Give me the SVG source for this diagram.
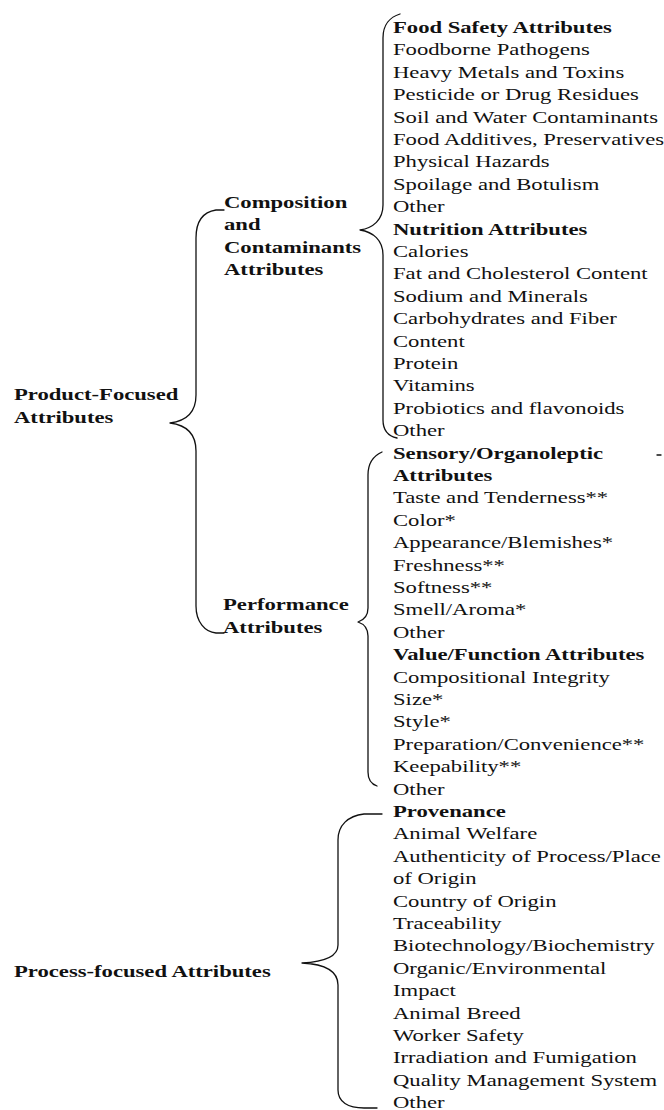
<svg xmlns="http://www.w3.org/2000/svg" width="664" height="1110" viewBox="0 0 664 1110">
<style>
text{font-family:"Liberation Serif","Times New Roman",serif;font-size:16.3px;fill:#111}
.b{font-weight:bold}
.br{fill:none;stroke:#111;stroke-width:1.3;stroke-linecap:round;stroke-linejoin:round}
</style>
<rect width="664" height="1110" fill="#fff"/>
<g id="connectors">
<path class="br" d="M224,210 L216,210 C203,212 196,222 196,238 L196,395 C196,412 186,421 170,423 C186,425 196,434 196,451 L196,606 C196,622 205,632 216,633 L224,633"/>
<path class="br" d="M400,14 C390,17 383,25 383,38 L383,205 C383,220 373,228 360,230 C373,232 383,240 383,255 L383,420 C383,430 388,436 397,438"/>
<path class="br" d="M382,452 C373,456 368,463 368,475 L368,608 C368,616 364,620 358,622 C364,624 368,628 368,636 L368,772 C368,780 371,784 377,786"/>
<path class="br" d="M382,814 L364,814 C348,816 338,825 338,840 L338,945 C338,957 322,962 302,963 C322,964 338,970 338,985 L338,1090 C338,1102 348,1108 364,1108 L377,1108"/>
<path class="br" d="M657,455 L661,455"/>
</g>
<g id="product" transform="translate(14 0) scale(1.39 1)">
<text class="b" x="0" y="400">Product-Focused</text>
<text class="b" x="0" y="423">Attributes</text>
</g>
<g id="process" transform="translate(14 0) scale(1.39 1)">
<text class="b" x="0" y="977">Process-focused Attributes</text>
</g>
<g id="composition" transform="translate(224 0) scale(1.39 1)">
<text class="b" x="0" y="208">Composition</text>
<text class="b" x="0" y="230.5">and</text>
<text class="b" x="0" y="253">Contaminants</text>
<text class="b" x="0" y="275.5">Attributes</text>
</g>
<g id="performance" transform="translate(223 0) scale(1.39 1)">
<text class="b" x="0" y="610">Performance</text>
<text class="b" x="0" y="633">Attributes</text>
</g>
<g id="food-safety" transform="translate(393 0) scale(1.39 1)">
<text class="b" x="0" y="33">Food Safety Attributes</text>
<text x="0" y="55.4">Foodborne Pathogens</text>
<text x="0" y="77.8">Heavy Metals and Toxins</text>
<text x="0" y="100.2">Pesticide or Drug Residues</text>
<text x="0" y="122.6">Soil and Water Contaminants</text>
<text x="0" y="145">Food Additives, Preservatives</text>
<text x="0" y="167.4">Physical Hazards</text>
<text x="0" y="189.8">Spoilage and Botulism</text>
<text x="0" y="212.2">Other</text>
</g>
<g id="nutrition" transform="translate(393 0) scale(1.39 1)">
<text class="b" x="0" y="234.6">Nutrition Attributes</text>
<text x="0" y="257">Calories</text>
<text x="0" y="279.4">Fat and Cholesterol Content</text>
<text x="0" y="301.8">Sodium and Minerals</text>
<text x="0" y="324.2">Carbohydrates and Fiber</text>
<text x="0" y="346.6">Content</text>
<text x="0" y="369">Protein</text>
<text x="0" y="391.4">Vitamins</text>
<text x="0" y="413.8">Probiotics and flavonoids</text>
<text x="0" y="436.2">Other</text>
</g>
<g id="sensory" transform="translate(393 0) scale(1.39 1)">
<text class="b" x="0" y="458.6">Sensory/Organoleptic</text>
<text class="b" x="0" y="481">Attributes</text>
<text x="0" y="503.4">Taste and Tenderness**</text>
<text x="0" y="525.8">Color*</text>
<text x="0" y="548.2">Appearance/Blemishes*</text>
<text x="0" y="570.6">Freshness**</text>
<text x="0" y="593">Softness**</text>
<text x="0" y="615.4">Smell/Aroma*</text>
<text x="0" y="637.8">Other</text>
</g>
<g id="value" transform="translate(393 0) scale(1.39 1)">
<text class="b" x="0" y="660.2">Value/Function Attributes</text>
<text x="0" y="682.6">Compositional Integrity</text>
<text x="0" y="705">Size*</text>
<text x="0" y="727.4">Style*</text>
<text x="0" y="749.8">Preparation/Convenience**</text>
<text x="0" y="772.2">Keepability**</text>
<text x="0" y="794.6">Other</text>
</g>
<g id="provenance" transform="translate(393 0) scale(1.39 1)">
<text class="b" x="0" y="817">Provenance</text>
<text x="0" y="839.4">Animal Welfare</text>
<text x="0" y="861.8">Authenticity of Process/Place</text>
<text x="0" y="884.2">of Origin</text>
<text x="0" y="906.6">Country of Origin</text>
<text x="0" y="929">Traceability</text>
<text x="0" y="951.4">Biotechnology/Biochemistry</text>
<text x="0" y="973.8">Organic/Environmental</text>
<text x="0" y="996.2">Impact</text>
<text x="0" y="1018.6">Animal Breed</text>
<text x="0" y="1041">Worker Safety</text>
<text x="0" y="1063.4">Irradiation and Fumigation</text>
<text x="0" y="1085.8">Quality Management System</text>
<text x="0" y="1108.2">Other</text>
</g>
</svg>
